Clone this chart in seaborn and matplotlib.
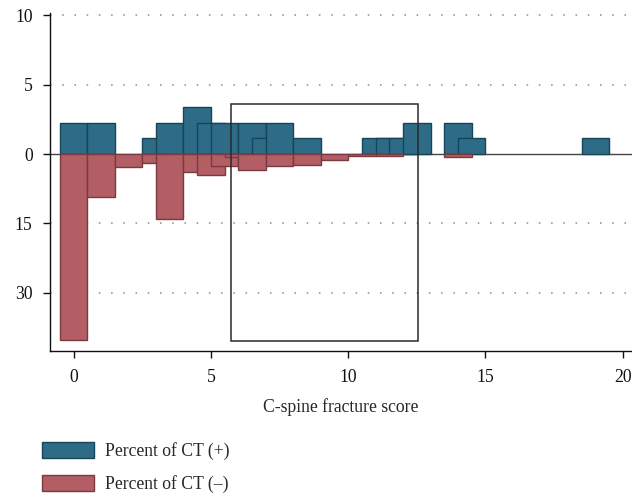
import matplotlib
matplotlib.use("Agg")
import matplotlib.pyplot as plt
import matplotlib.patches as mpatches
import seaborn as sns
import pandas as pd

# ---------------- data ----------------
pos_scores = [0, 1, 3, 3.5, 4.5, 5, 5.5, 6.5, 7, 7.5, 8.5, 11, 11.5, 12, 12.5, 14, 14.5, 19]
pos_pct = [2.27, 2.27, 1.14, 2.27, 3.41, 2.27, 2.27, 2.27, 1.14, 2.27, 1.14,
           1.14, 1.14, 1.14, 2.27, 2.27, 1.14, 1.14]

neg_scores = [0, 1, 2, 3, 3.5, 4.5, 5, 5.5, 6, 6.5, 7.5, 8.5, 9.5, 10.5, 11.5, 14]
neg_pct = [40.3, 9.25, 2.88, 2.01, 14.1, 3.83, 4.55, 2.6, 0.65, 3.4, 2.6, 2.38,
           1.2, 0.43, 0.35, 0.58]

NEG_SCALE = 3  # lower half is drawn at one third of the upper scale
ytick_vals = [10, 5, 0, -5, -10]
ytick_labels = ["10", "5", "0", "15", "30"]
xtick_vals = [0, 5, 10, 15, 20]

box_x = [5.75, 12.55]          # outlined window
box_top_pos = 3.63             # in Percent of CT (+) units
box_bottom_neg = 40.5          # in Percent of CT (-) units

x_label = "C-spine fracture score"
legend_labels = ["Percent of CT (+)", "Percent of CT (\u2013)"]

blue_fill, blue_edge = "#2e6b87", "#184457"
red_fill, red_edge = "#b35d65", "#7a3a42"

FS = 12.7

# ---------------- style ----------------
sns.set_theme(style="white")
plt.rcParams["font.family"] = ["Liberation Serif", "DejaVu Serif"]
plt.rcParams["font.size"] = FS

fig = plt.figure(figsize=(6.32, 4.98), dpi=100)
ax = fig.add_axes([50 / 632, 1 - 350.7 / 498, 581.5 / 632, (350.7 - 13) / 498])

df_pos = pd.DataFrame({"score": pos_scores, "value": pos_pct})
df_neg = pd.DataFrame({"score": neg_scores,
                       "value": [-v / NEG_SCALE for v in neg_pct]})

# dotted grid
for yv in ytick_vals:
    if yv != 0:
        ax.axhline(yv, color="#8a8a8a", lw=1.1, ls=(0, (1, 7)), zorder=0.5)
ax.axhline(0, color="#444444", lw=1.0, zorder=0.6)

sns.barplot(data=df_pos, x="score", y="value", native_scale=True, width=2.0,
            color=blue_fill, edgecolor=blue_edge, linewidth=1.0, saturation=1,
            errorbar=None, ax=ax, zorder=2)
sns.barplot(data=df_neg, x="score", y="value", native_scale=True, width=2.0,
            color=red_fill, edgecolor=red_edge, linewidth=1.0, saturation=1,
            errorbar=None, ax=ax, zorder=2)

# outlined window
ax.add_patch(mpatches.Rectangle(
    (box_x[0], -box_bottom_neg / NEG_SCALE), box_x[1] - box_x[0],
    box_top_pos + box_bottom_neg / NEG_SCALE,
    fill=False, edgecolor="#2a2a2a", lw=1.1, zorder=3))

ax.set_xlim(-0.86, 20.32)
ax.set_ylim(-14.2, 10.18)
ax.set_xticks(xtick_vals)
ax.set_xticklabels([str(v) for v in xtick_vals])
ax.set_yticks(ytick_vals)
ax.set_yticklabels(ytick_labels)
ax.set_xlabel(x_label, fontsize=FS, labelpad=9)
ax.set_ylabel("")

for side in ["top", "right"]:
    ax.spines[side].set_visible(False)
for side in ["left", "bottom"]:
    ax.spines[side].set_color("#111111")
    ax.spines[side].set_linewidth(1.0)

ax.tick_params(axis="both", which="major", direction="out", length=5,
               width=1.0, color="#111111", labelsize=FS, labelcolor="#111111",
               left=True, bottom=True)
ax.tick_params(axis="y", pad=7.5)
ax.tick_params(axis="x", pad=8)

handles = [mpatches.Patch(facecolor=blue_fill, edgecolor=blue_edge, lw=1.0),
           mpatches.Patch(facecolor=red_fill, edgecolor=red_edge, lw=1.0)]
fig.legend(handles, legend_labels, loc="upper left",
           bbox_to_anchor=(41.7 / 632, 1 - 442 / 498),
           bbox_transform=fig.transFigure, frameon=False, fontsize=FS,
           handlelength=2.95, handleheight=1.0, handletextpad=0.62,
           labelspacing=0.85, borderpad=0, borderaxespad=0)

fig.savefig("out.png", dpi=100)
